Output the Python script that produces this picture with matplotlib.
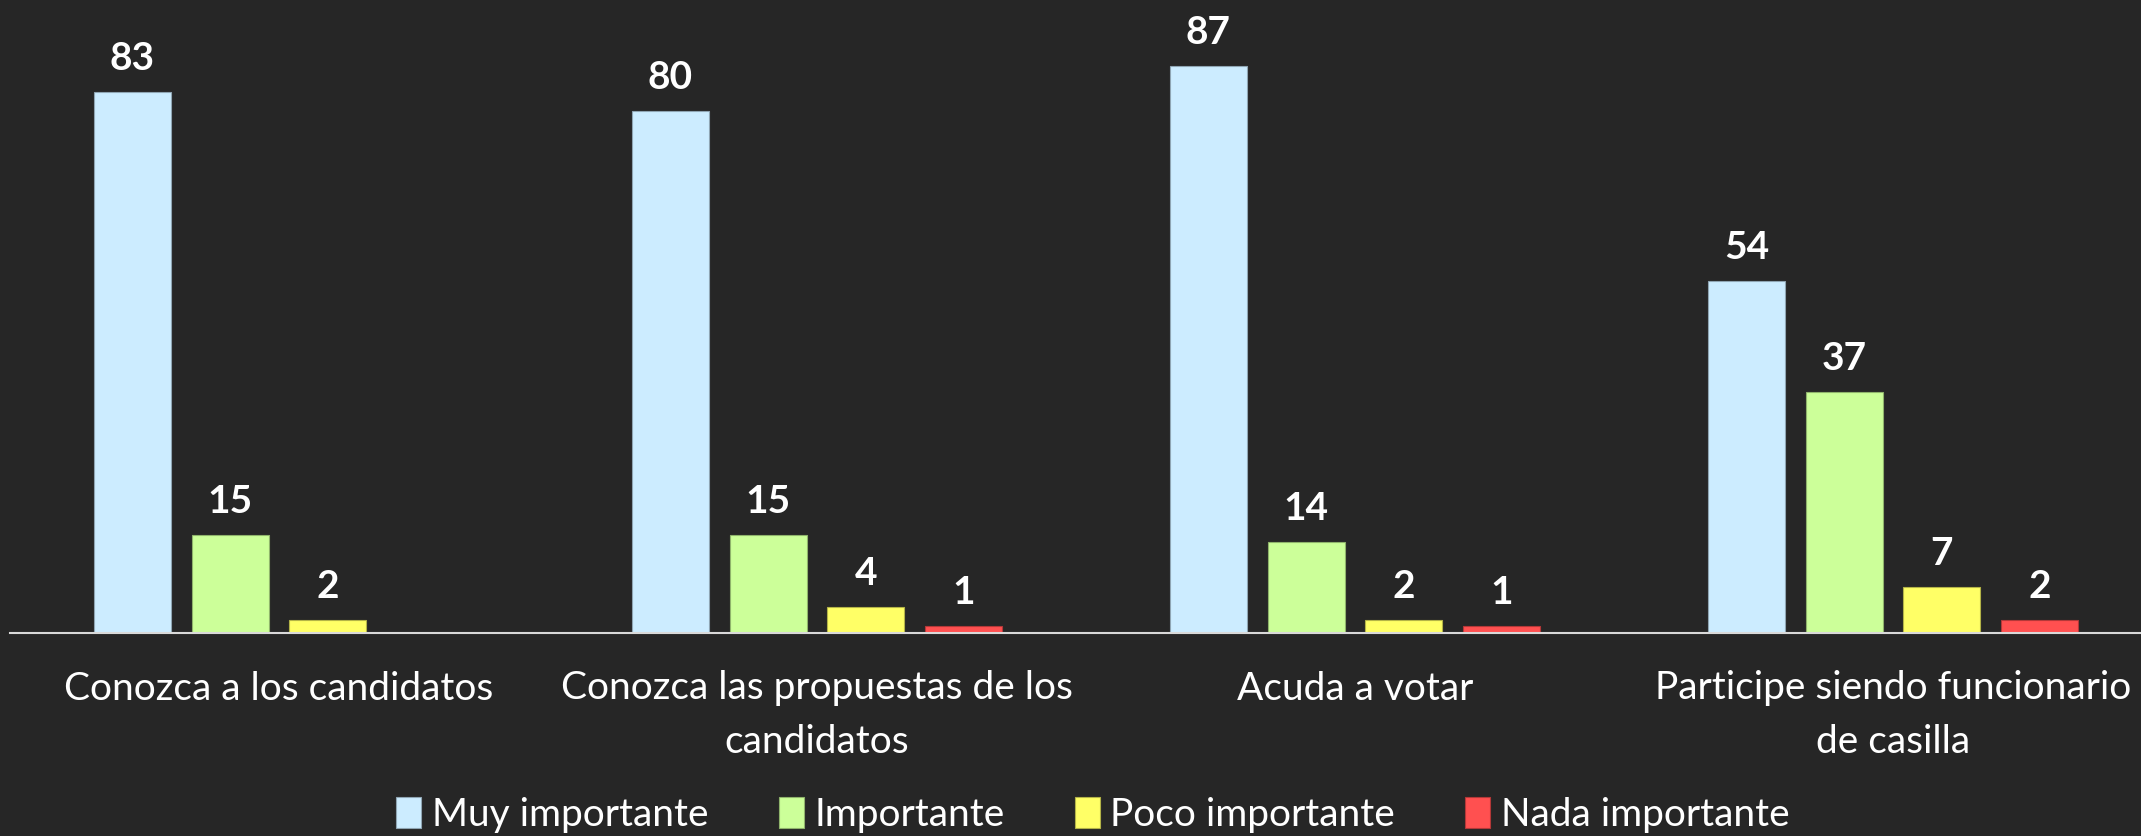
"""Grafico de barras agrupadas: importancia de la participacion ciudadana."""

import matplotlib

matplotlib.use("Agg")
import matplotlib.pyplot as plt
import numpy as np

categories = [
    "Conozca a los candidatos",
    "Conozca las propuestas de los\ncandidatos",
    "Acuda a votar",
    "Participe siendo funcionario\nde casilla",
]
series_names = ["Muy importante", "Importante", "Poco importante", "Nada importante"]
muy_importante = [83, 80, 87, 54]
importante = [15, 15, 14, 37]
poco_importante = [2, 4, 2, 7]
nada_importante = [np.nan, 1, 1, 2]

BG = "#262626"
COLORS = ["#CCECFF", "#CCFF99", "#FFFF66", "#FF5050"]
EDGES = ["#8FA5B3", "#8FB36B", "#B3B347", "#B33838"]
FONT = ["Lato", "DejaVu Sans"]

W, H = 2141, 836
fig = plt.figure(figsize=(W / 100, H / 100), dpi=100, facecolor=BG)
ax = fig.add_axes([10 / W, 203 / H, 1 - 10 / W, 633 / H])
ax.set_facecolor(BG)

x = np.arange(len(categories))
step = 0.1817
width = 0.143
all_series = [muy_importante, importante, poco_importante, nada_importante]
for i, (name, values) in enumerate(zip(series_names, all_series)):
    pos = x + (i - 1.5) * step
    vals = np.array(values, dtype=float)
    ax.bar(pos, vals, width, color=COLORS[i], edgecolor=EDGES[i],
           linewidth=0.8, label=name)
    for p, v in zip(pos, vals):
        if np.isnan(v):
            continue
        ax.annotate(f"{v:.0f}", (p, v), xytext=(0, 16), textcoords="offset pixels",
                    ha="center", va="bottom", color="white", fontsize=28,
                    fontweight="bold", family=FONT)

ax.set_xlim(-0.5, 3.461)
ax.set_ylim(0, 97.1)
ax.set_yticks([])
ax.set_xticks(x)
ax.set_xticklabels(categories, color="white", fontsize=28, family=FONT, linespacing=1.6)
ax.tick_params(axis="x", length=0, pad=27)
for side in ["top", "left", "right"]:
    ax.spines[side].set_visible(False)
ax.spines["bottom"].set_color("#D9D9D9")
ax.spines["bottom"].set_linewidth(1.5)

leg = fig.legend(loc="center", bbox_to_anchor=(1093 / W, 21 / H), ncol=4, frameon=False,
                 prop={"family": FONT, "size": 28}, handlelength=0.64, handleheight=0.84,
                 handletextpad=0.28, columnspacing=1.8, borderpad=0.1)
for t in leg.get_texts():
    t.set_color("white")

fig.savefig("out.png", dpi=100, facecolor=BG)
